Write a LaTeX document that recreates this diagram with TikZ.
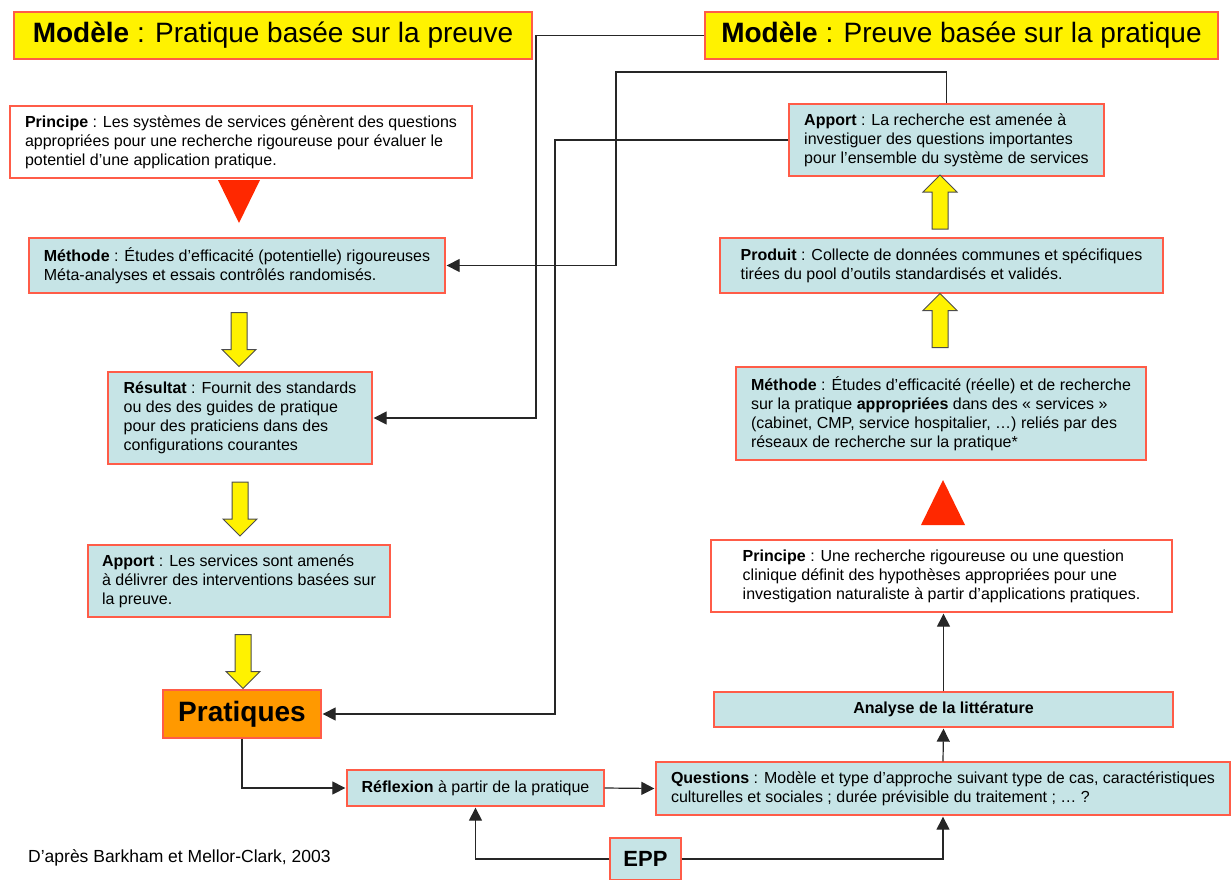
\documentclass[tikz,border=0pt]{standalone}
\usepackage{fontspec}
\setmainfont{Liberation Sans}
\usepackage{tikz}
\usetikzlibrary{arrows.meta}
\usetikzlibrary{positioning}
\usetikzlibrary{shapes.arrows}
\definecolor{boxblue}{RGB}{198,228,230}
\definecolor{boxred}{RGB}{255,92,72}
\definecolor{trired}{RGB}{255,40,0}
\definecolor{pratorange}{RGB}{255,153,0}
\tikzstyle{box}=[draw=boxred,line width=1.3pt,fill=boxblue,align=left,inner sep=0pt,font=\fontsize{16}{19}\selectfont]
\tikzstyle{whitebox}=[box,fill=white]
\tikzstyle{titlebox}=[draw=boxred,line width=1.3pt,fill=yellow,inner sep=0pt,font=\fontsize{28}{32}\selectfont]
\tikzstyle{yarrow}=[single arrow,draw=black!70,fill=yellow,line width=1pt,inner xsep=0pt,inner ysep=7.5pt,minimum height=54pt,single arrow head extend=9pt,single arrow head indent=0pt]
\tikzstyle{link}=[line width=1.2pt,black!85,shorten >=1pt,-{Triangle[length=13pt,width=13pt]}]

\begin{document}
\begin{tikzpicture}[x=1pt,y=-1pt]
\useasboundingbox (0,0) rectangle (1232,879);
\node[titlebox,minimum width=518,minimum height=47] (modL) at (273,35.5) {\textbf{Modèle} : Pratique basée sur la preuve};
\node[titlebox,minimum width=513,minimum height=47] (modR) at (961.5,35.5) {\textbf{Modèle} : Preuve basée sur la pratique};

% left column
\node[whitebox,minimum width=462,minimum height=72] (prinL) at (241,142) {\textbf{Principe} : Les systèmes de services génèrent des questions\\appropriées pour une recherche rigoureuse pour évaluer le\\potentiel d’une application pratique.};
\node[box,minimum width=416,minimum height=55] (methL) at (237,265.5) {\textbf{Méthode} : Études d’efficacité (potentielle) rigoureuses\\Méta-analyses et essais contrôlés randomisés.};
\node[box,minimum width=264,minimum height=92] (resL) at (240,418) {\textbf{Résultat} : Fournit des standards\\ou des des guides de pratique\\pour des praticiens dans des\\configurations courantes};
\node[box,minimum width=302,minimum height=72] (appL) at (239,581) {\textbf{Apport} : Les services sont amenés\\à délivrer des interventions basées sur\\la preuve.};
\node[draw=boxred,line width=1.3pt,fill=pratorange,minimum width=158,minimum height=48,inner sep=0pt,font=\fontsize{28}{32}\selectfont\bfseries] (prat) at (242,714) {Pratiques};

\fill[trired] (218,180) -- (260,180) -- (239,223) -- cycle;
\node[yarrow,rotate=-90] (dL1) at (239,335.5) {};
\node[yarrow,rotate=-90] (dL2) at (240,505) {};
\node[yarrow,rotate=-90] (dL3) at (243,657.5) {};

% right column
\node[box,minimum width=315,minimum height=72] (appR) at (946.5,140) {\textbf{Apport} : La recherche est amenée à\\investiguer des questions importantes\\pour l’ensemble du système de services};
\node[box,minimum width=443,minimum height=55] (prodR) at (941.5,265.5) {\textbf{Produit} : Collecte de données communes et spécifiques\\tirées du pool d’outils standardisés et validés.};
\node[box,minimum width=410,minimum height=93] (methR) at (941,413.5) {\textbf{Méthode} : Études d’efficacité (réelle) et de recherche\\sur la pratique \textbf{appropriées} dans des « services »\\(cabinet, CMP, service hospitalier, …) reliés par des\\réseaux de recherche sur la pratique*};
\node[whitebox,minimum width=461,minimum height=72] (prinR) at (941.5,576) {\textbf{Principe} : Une recherche rigoureuse ou une question\\clinique définit des hypothèses appropriées pour une\\investigation naturaliste à partir d’applications pratiques.};
\node[box,minimum width=459,minimum height=35,align=center] (lit) at (943.5,709.5) {\textbf{Analyse de la littérature}};
\node[box,minimum width=574,minimum height=53] (quest) at (943,788.5) {\textbf{Questions} : Modèle et type d’approche suivant type de cas, caractéristiques\\culturelles et sociales ; durée prévisible du traitement ; … ?};

\fill[trired] (921,525) -- (965,525) -- (943,480) -- cycle;
\node[yarrow,rotate=90] (uR1) at (940,206) {};
\node[yarrow,rotate=90] (uR2) at (940,324.5) {};

% bottom
\node[box,minimum width=257,minimum height=36] (refl) at (475.5,788) {\textbf{Réflexion} à partir de la pratique};
\node[box,minimum width=71,minimum height=42,align=center,font=\fontsize{22}{26}\selectfont\bfseries] (epp) at (645.5,859) {EPP};
\node[anchor=base west,inner sep=0pt,font=\fontsize{17.5}{20}\selectfont] (src) at (28,862) {D’après Barkham et Mellor-Clark, 2003};

% connectors
\draw[link] (modR.west) -- (536,35.5) |- (resL.east);
\draw[link] (appR.north) |- (616,72) |- (methL.east);
\draw[link] (appR.west) -- (555,140) |- (prat.east);
\draw[link] (prat.south) |- (refl.west);
\draw[link] (refl.east) -- (quest.west);
\draw[link] (epp.west) -| (refl.south);
\draw[link] (epp.east) -| (quest.south);
\draw[link] (quest.north) -- (lit.south);
\draw[link] (lit.north) -- (lit.north |- prinR.south);
\end{tikzpicture}
\end{document}
